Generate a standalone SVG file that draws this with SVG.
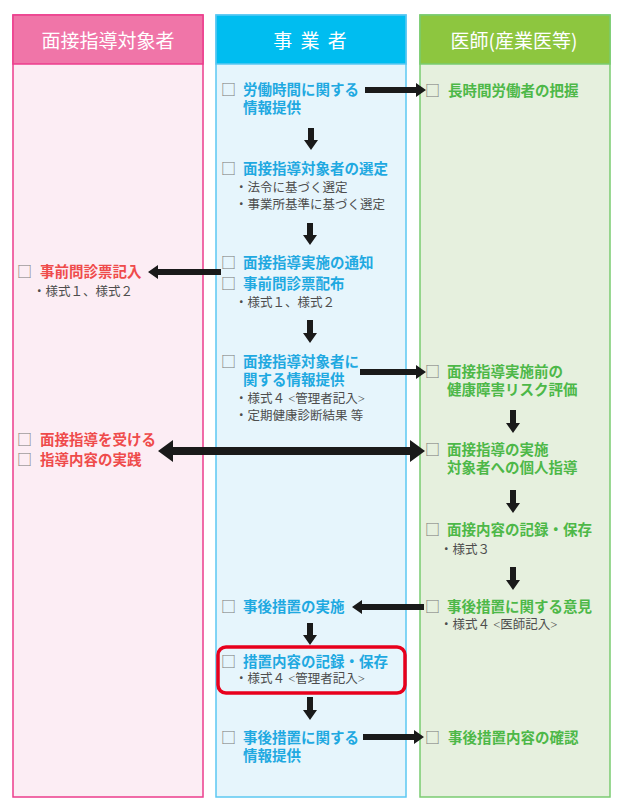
<svg xmlns="http://www.w3.org/2000/svg" width="623" height="809" viewBox="0 0 623 809">
<style>
.hd{font-family:"Noto Sans CJK JP","Noto Sans",sans-serif;font-size:19px;fill:#ffffff;text-anchor:middle}
.lb{font-family:"Noto Sans CJK JP","Noto Sans",sans-serif;font-size:14.5px;font-weight:700}
.b{fill:#1FA9E1}.p{fill:#EF4B4B}.g{fill:#4DB848}
.sb{font-family:"Liberation Serif","Noto Sans CJK JP",serif;font-size:12.5px;fill:#4d4d4d}
.cb{font-family:"Noto Sans CJK JP","Noto Sans",sans-serif;font-size:15px;fill:#777777}
.ar{fill:#1a1a1a}
</style>
<rect width="623" height="809" fill="#ffffff"/>
<g id="col-target">
<rect x="13" y="15" width="190" height="782" fill="#FCEDF4" stroke="#EC3D8C" stroke-width="1.5"/>
<rect x="13" y="15" width="190" height="49" fill="#F075A8" stroke="#EC3D8C" stroke-width="1.5"/>
<text class="hd" x="108" y="48">面接指導対象者</text>
</g>
<g id="col-employer">
<rect x="216" y="15" width="190" height="782" fill="#E6F5FC" stroke="#5CC8F2" stroke-width="1.5"/>
<rect x="216" y="15" width="190" height="49" fill="#00BDF0" stroke="#5CC8F2" stroke-width="1.5"/>
<text class="hd" x="311" y="48" letter-spacing="2">事 業 者</text>
</g>
<g id="col-doctor">
<rect x="420" y="15" width="190" height="782" fill="#E6F0DE" stroke="#7ACB70" stroke-width="1.5"/>
<rect x="420" y="15" width="190" height="49" fill="#8DC63F" stroke="#7ACB70" stroke-width="1.5"/>
<text class="hd" x="514" y="48">医師(産業医等)</text>
</g>

<g id="e1"><text class="cb" x="221" y="95">□</text><text class="lb b" x="243" y="95">労働時間に関する<tspan x="243" dy="18">情報提供</tspan></text></g>
<g id="e2"><text class="cb" x="221" y="174">□</text><text class="lb b" x="243" y="174">面接指導対象者の選定</text>
<text class="sb" x="235" y="192">・法令に基づく選定<tspan x="235" dy="17">・事業所基準に基づく選定</tspan></text></g>
<g id="e3"><text class="cb" x="221" y="268">□</text><text class="lb b" x="243" y="268">面接指導実施の通知</text></g>
<g id="e4"><text class="cb" x="221" y="289">□</text><text class="lb b" x="243" y="289">事前問診票配布</text>
<text class="sb" x="235" y="307">・様式１、様式２</text></g>
<g id="e5"><text class="cb" x="221" y="367">□</text><text class="lb b" x="243" y="367">面接指導対象者に<tspan x="243" dy="18">関する情報提供</tspan></text>
<text class="sb" x="235" y="403">・様式４ &lt;管理者記入&gt;<tspan x="235" dy="17">・定期健康診断結果 等</tspan></text></g>
<g id="e6"><text class="cb" x="221" y="612">□</text><text class="lb b" x="243" y="612">事後措置の実施</text></g>
<g id="e7"><rect x="218" y="647" width="187" height="46" rx="8" fill="none" stroke="#E8001C" stroke-width="3.5"/>
<text class="cb" x="221" y="667">□</text><text class="lb b" x="243" y="667">措置内容の記録・保存</text>
<text class="sb" x="235" y="683">・様式４ &lt;管理者記入&gt;</text></g>
<g id="e8"><text class="cb" x="221" y="743">□</text><text class="lb b" x="243" y="743">事後措置に関する<tspan x="243" dy="18">情報提供</tspan></text></g>

<g id="t1"><text class="cb" x="17" y="277">□</text><text class="lb p" x="40" y="277">事前問診票記入</text>
<text class="sb" x="33" y="296">・様式１、様式２</text></g>
<g id="t2"><text class="cb" x="17" y="445">□</text><text class="lb p" x="40" y="445">面接指導を受ける</text></g>
<g id="t3"><text class="cb" x="17" y="465">□</text><text class="lb p" x="40" y="465">指導内容の実践</text></g>

<g id="d1"><text class="cb" x="425" y="96">□</text><text class="lb g" x="448" y="96">長時間労働者の把握</text></g>
<g id="d2"><text class="cb" x="425" y="377">□</text><text class="lb g" x="447" y="377">面接指導実施前の<tspan x="447" dy="18">健康障害リスク評価</tspan></text></g>
<g id="d3"><text class="cb" x="425" y="455">□</text><text class="lb g" x="447" y="455">面接指導の実施<tspan x="447" dy="18">対象者への個人指導</tspan></text></g>
<g id="d4"><text class="cb" x="425" y="535">□</text><text class="lb g" x="447" y="535">面接内容の記録・保存</text>
<text class="sb" x="440" y="554">・様式３</text></g>
<g id="d5"><text class="cb" x="425" y="612">□</text><text class="lb g" x="447" y="612">事後措置に関する意見</text>
<text class="sb" x="440" y="629">・様式４ &lt;医師記入&gt;</text></g>
<g id="d6"><text class="cb" x="425" y="743">□</text><text class="lb g" x="448" y="743">事後措置内容の確認</text></g>

<g id="connectors" class="ar">
<path d="M365,87 H416 V83 L426,90 L416,97 V93 H365 Z"/>
<path d="M308,128 H314 V140 H318 L311,150 L304,140 H308 Z"/>
<path d="M307,223 H313 V235 H317 L310,245 L303,235 H307 Z"/>
<path d="M221,269 H158 V265 L148,272 L158,279 V275 H221 Z"/>
<path d="M307,320 H313 V333 H317 L310,343 L303,333 H307 Z"/>
<path d="M360,369 H416 V365 L426,372 L416,379 V375 H360 Z"/>
<path d="M173,447 H410 V440 L425,451 L410,462 V455 H173 V462 L158,451 L173,440 Z"/>
<path d="M510,410 H516 V423 H520 L513,433 L506,423 H510 Z"/>
<path d="M510,490 H516 V503 H520 L513,513 L506,503 H510 Z"/>
<path d="M510,567 H516 V580 H520 L513,590 L506,580 H510 Z"/>
<path d="M424,604 H362 V600 L352,607 L362,614 V610 H424 Z"/>
<path d="M307,623 H313 V635 H317 L310,645 L303,635 H307 Z"/>
<path d="M307,697 H313 V710 H317 L310,720 L303,710 H307 Z"/>
<path d="M363,734 H414 V730 L424,737 L414,744 V740 H363 Z"/>
</g>
</svg>
